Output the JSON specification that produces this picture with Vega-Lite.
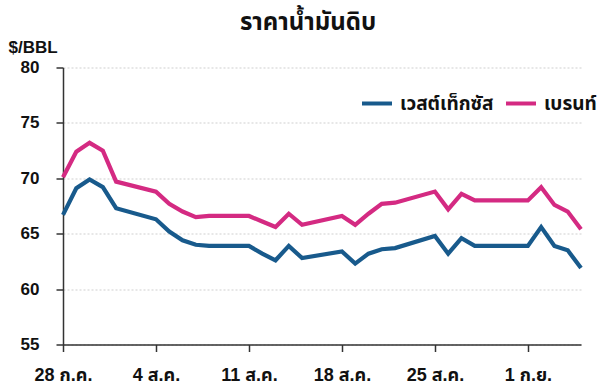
{
  "$schema": "https://vega.github.io/schema/vega-lite/v6.json",
  "width": 518,
  "height": 277,
  "autosize": "none",
  "padding": {"left": 63, "top": 67.5, "right": 19, "bottom": 44.5},
  "background": "white",
  "title": {
    "text": "ราคาน้ำมันดิบ",
    "font": "Liberation Sans, Noto Sans Thai, sans-serif",
    "fontSize": 24,
    "fontWeight": "bold",
    "color": "#111111",
    "anchor": "middle",
    "frame": "group",
    "dx": -14,
    "dy": 17,
    "baseline": "alphabetic",
    "offset": 2
  },
  "config": {
    "view": {"stroke": null},
    "font": "Liberation Sans, Noto Sans Thai, sans-serif"
  },
  "data": {
    "values": [
      {"date": "2025-07-28", "series": "เวสต์เท็กซัส", "price": 66.7},
      {"date": "2025-07-29", "series": "เวสต์เท็กซัส", "price": 69.1},
      {"date": "2025-07-30", "series": "เวสต์เท็กซัส", "price": 69.9},
      {"date": "2025-07-31", "series": "เวสต์เท็กซัส", "price": 69.2},
      {"date": "2025-08-01", "series": "เวสต์เท็กซัส", "price": 67.3},
      {"date": "2025-08-04", "series": "เวสต์เท็กซัส", "price": 66.3},
      {"date": "2025-08-05", "series": "เวสต์เท็กซัส", "price": 65.2},
      {"date": "2025-08-06", "series": "เวสต์เท็กซัส", "price": 64.4},
      {"date": "2025-08-07", "series": "เวสต์เท็กซัส", "price": 64.0},
      {"date": "2025-08-08", "series": "เวสต์เท็กซัส", "price": 63.9},
      {"date": "2025-08-11", "series": "เวสต์เท็กซัส", "price": 63.9},
      {"date": "2025-08-12", "series": "เวสต์เท็กซัส", "price": 63.2},
      {"date": "2025-08-13", "series": "เวสต์เท็กซัส", "price": 62.6},
      {"date": "2025-08-14", "series": "เวสต์เท็กซัส", "price": 63.9},
      {"date": "2025-08-15", "series": "เวสต์เท็กซัส", "price": 62.8},
      {"date": "2025-08-18", "series": "เวสต์เท็กซัส", "price": 63.4},
      {"date": "2025-08-19", "series": "เวสต์เท็กซัส", "price": 62.3},
      {"date": "2025-08-20", "series": "เวสต์เท็กซัส", "price": 63.2},
      {"date": "2025-08-21", "series": "เวสต์เท็กซัส", "price": 63.6},
      {"date": "2025-08-22", "series": "เวสต์เท็กซัส", "price": 63.7},
      {"date": "2025-08-25", "series": "เวสต์เท็กซัส", "price": 64.8},
      {"date": "2025-08-26", "series": "เวสต์เท็กซัส", "price": 63.2},
      {"date": "2025-08-27", "series": "เวสต์เท็กซัส", "price": 64.6},
      {"date": "2025-08-28", "series": "เวสต์เท็กซัส", "price": 63.9},
      {"date": "2025-08-29", "series": "เวสต์เท็กซัส", "price": 63.9},
      {"date": "2025-09-01", "series": "เวสต์เท็กซัส", "price": 63.9},
      {"date": "2025-09-02", "series": "เวสต์เท็กซัส", "price": 65.6},
      {"date": "2025-09-03", "series": "เวสต์เท็กซัส", "price": 63.9},
      {"date": "2025-09-04", "series": "เวสต์เท็กซัส", "price": 63.5},
      {"date": "2025-09-05", "series": "เวสต์เท็กซัส", "price": 61.9},
      {"date": "2025-07-28", "series": "เบรนท์", "price": 70.1},
      {"date": "2025-07-29", "series": "เบรนท์", "price": 72.4},
      {"date": "2025-07-30", "series": "เบรนท์", "price": 73.2},
      {"date": "2025-07-31", "series": "เบรนท์", "price": 72.5},
      {"date": "2025-08-01", "series": "เบรนท์", "price": 69.7},
      {"date": "2025-08-04", "series": "เบรนท์", "price": 68.8},
      {"date": "2025-08-05", "series": "เบรนท์", "price": 67.7},
      {"date": "2025-08-06", "series": "เบรนท์", "price": 67.0},
      {"date": "2025-08-07", "series": "เบรนท์", "price": 66.5},
      {"date": "2025-08-08", "series": "เบรนท์", "price": 66.6},
      {"date": "2025-08-11", "series": "เบรนท์", "price": 66.6},
      {"date": "2025-08-12", "series": "เบรนท์", "price": 66.1},
      {"date": "2025-08-13", "series": "เบรนท์", "price": 65.6},
      {"date": "2025-08-14", "series": "เบรนท์", "price": 66.8},
      {"date": "2025-08-15", "series": "เบรนท์", "price": 65.8},
      {"date": "2025-08-18", "series": "เบรนท์", "price": 66.6},
      {"date": "2025-08-19", "series": "เบรนท์", "price": 65.8},
      {"date": "2025-08-20", "series": "เบรนท์", "price": 66.8},
      {"date": "2025-08-21", "series": "เบรนท์", "price": 67.7},
      {"date": "2025-08-22", "series": "เบรนท์", "price": 67.8},
      {"date": "2025-08-25", "series": "เบรนท์", "price": 68.8},
      {"date": "2025-08-26", "series": "เบรนท์", "price": 67.2},
      {"date": "2025-08-27", "series": "เบรนท์", "price": 68.6},
      {"date": "2025-08-28", "series": "เบรนท์", "price": 68.0},
      {"date": "2025-08-29", "series": "เบรนท์", "price": 68.0},
      {"date": "2025-09-01", "series": "เบรนท์", "price": 68.0},
      {"date": "2025-09-02", "series": "เบรนท์", "price": 69.2},
      {"date": "2025-09-03", "series": "เบรนท์", "price": 67.6},
      {"date": "2025-09-04", "series": "เบรนท์", "price": 67.0},
      {"date": "2025-09-05", "series": "เบรนท์", "price": 65.4}
    ]
  },
  "mark": {"type": "line", "strokeWidth": 4.2, "strokeJoin": "miter", "strokeCap": "butt"},
  "encoding": {
    "x": {
      "field": "date",
      "type": "temporal",
      "scale": {
        "type": "utc",
        "domain": [
          {"year": 2025, "month": "jul", "date": 28, "utc": true},
          {"year": 2025, "month": "sep", "date": 5, "utc": true}
        ]
      },
      "axis": {
        "title": null,
        "values": [
          {"year": 2025, "month": "jul", "date": 28, "utc": true},
          {"year": 2025, "month": "aug", "date": 4, "utc": true},
          {"year": 2025, "month": "aug", "date": 11, "utc": true},
          {"year": 2025, "month": "aug", "date": 18, "utc": true},
          {"year": 2025, "month": "aug", "date": 25, "utc": true},
          {"year": 2025, "month": "sep", "date": 1, "utc": true}
        ],
        "labelExpr": "utcdate(datum.value) + ' ' + (utcmonth(datum.value) == 6 ? 'ก.ค.' : utcmonth(datum.value) == 7 ? 'ส.ค.' : 'ก.ย.')",
        "grid": false,
        "domain": true,
        "domainColor": "#333333",
        "domainWidth": 1.5,
        "ticks": true,
        "tickColor": "#333333",
        "tickWidth": 1.5,
        "tickSize": 7,
        "labelPadding": 15,
        "labelFontSize": 18,
        "labelFontWeight": "bold",
        "labelColor": "#111111",
        "labelFlush": false,
        "labelOverlap": false
      }
    },
    "y": {
      "field": "price",
      "type": "quantitative",
      "scale": {"domain": [55, 80], "nice": false, "zero": false},
      "axis": {
        "title": "$/BBL",
        "titleAngle": 0,
        "titleAlign": "left",
        "titleBaseline": "alphabetic",
        "titleX": -55,
        "titleY": -15,
        "titleFontSize": 17,
        "titleFontWeight": "bold",
        "titleColor": "#111111",
        "values": [55, 60, 65, 70, 75, 80],
        "grid": true,
        "gridColor": "#cfcfcf",
        "gridDash": [2, 2],
        "gridWidth": 1,
        "domain": true,
        "domainColor": "#333333",
        "domainWidth": 1.5,
        "ticks": true,
        "tickColor": "#333333",
        "tickWidth": 1.5,
        "tickSize": 7,
        "labelPadding": 17,
        "labelAlign": "right",
        "labelFontSize": 17,
        "labelFontWeight": "bold",
        "labelColor": "#111111"
      }
    },
    "color": {
      "field": "series",
      "type": "nominal",
      "scale": {"domain": ["เวสต์เท็กซัส", "เบรนท์"], "range": ["#185a8c", "#d42a82"]},
      "legend": {
        "title": null,
        "orient": "none",
        "legendX": 297,
        "legendY": 19,
        "direction": "horizontal",
        "symbolType": "stroke",
        "symbolSize": 900,
        "symbolStrokeWidth": 4,
        "labelFontSize": 19,
        "labelFontWeight": "bold",
        "labelColor": "#111111",
        "labelOffset": 6,
        "columnPadding": 4
      }
    }
  }
}
